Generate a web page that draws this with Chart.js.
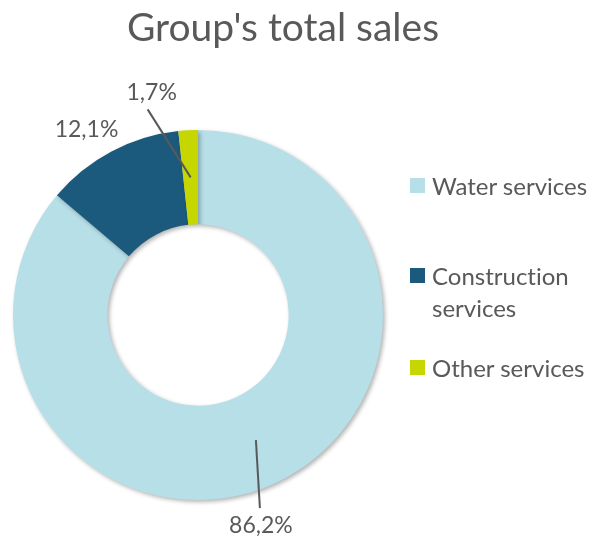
<!DOCTYPE html>
<html>
<head>
<meta charset="utf-8">
<script src="https://cdn.jsdelivr.net/npm/chart.js@4"></script>
<style>
body{margin:0;background:#fff;}
#wrap{position:relative;width:592px;height:540px;font-family:Lato,"Open Sans",sans-serif;color:#595959;font-variant-ligatures:none;}
#title{position:absolute;left:0;top:3px;width:566px;text-align:center;font-size:39px;}
.lg{position:absolute;left:410px;font-size:24px;line-height:32px;}
.lg span{position:absolute;left:0;width:15px;height:15px;}
.lg div{margin-left:22px;white-space:nowrap;}
</style>
</head>
<body>
<div id="wrap">
<div id="title">Group's total sales</div>
<canvas id="chart" width="592" height="540"></canvas>
<div id="legend"></div>
</div>
<script>
const categories = ["Water services", "Construction services", "Other services"];
const shares = [86.2, 12.1, 1.7];
const labelTexts = ["86,2%", "12,1%", "1,7%"];
const colors = ["#B7DFE8", "#1B5A7D", "#C5D600"];

/* legend, built from the categories */
const legendRows = [
  {top:170, lines:["Water services"]},
  {top:260, lines:["Construction", "services"]},
  {top:352, lines:["Other services"]}
];
const legend = document.getElementById("legend");
categories.forEach((c,i)=>{
  const row = legendRows[i];
  legend.innerHTML += `<div class="lg" style="top:${row.top}px">
<span style="top:8px;background:${colors[i]}"></span>
<div>${row.lines.join("<br>")}</div></div>`;
});

/* label placement, relative to the slice middle point */
const labelPos = [
  {tx:5, ty:86, lx:4, ly:68, line:true},
  {tx:-47, ty:-64, line:false},
  {tx:-39, ty:-85, lx:-43, ly:-68, line:true}
];

const shadowPlugin = {
  id:"shadow",
  beforeDatasetsDraw(chart){
    const c = chart.ctx;
    c.save();
    c.shadowColor = "rgba(0,0,0,0.3)";
    c.shadowBlur = 4;
    c.shadowOffsetX = 2;
    c.shadowOffsetY = 2;
  },
  afterDatasetsDraw(chart){
    chart.ctx.restore();
  }
};

const labelPlugin = {
  id:"labels",
  afterDatasetsDraw(chart){
    const c = chart.ctx;
    const meta = chart.getDatasetMeta(0);
    c.save();
    c.font = "23px Lato, 'Open Sans', sans-serif";
    c.fillStyle = "#595959";
    c.strokeStyle = "#595959";
    c.lineWidth = 2;
    c.textAlign = "center";
    c.textBaseline = "middle";
    meta.data.forEach((arc,i)=>{
      const p = arc.getProps(["x","y","startAngle","endAngle","innerRadius","outerRadius"], true);
      const a = (p.startAngle + p.endAngle) / 2;
      const r = (p.innerRadius + p.outerRadius) / 2;
      const mx = p.x + Math.cos(a) * r;
      const my = p.y + Math.sin(a) * r;
      const o = labelPos[i];
      if(o.line){
        c.beginPath();
        c.moveTo(mx, my);
        c.lineTo(mx + o.lx, my + o.ly);
        c.stroke();
      }
      c.fillText(labelTexts[i], mx + o.tx, my + o.ty);
    });
    c.restore();
  }
};

new Chart(document.getElementById("chart"), {
  type:"doughnut",
  data:{
    labels:categories,
    datasets:[{
      data:shares,
      backgroundColor:colors,
      borderWidth:0,
      hoverOffset:0
    }]
  },
  options:{
    responsive:false,
    animation:false,
    cutout:"49%",
    layout:{padding:{left:13, right:209, top:130, bottom:40}},
    plugins:{legend:{display:false}, tooltip:{enabled:false}}
  },
  plugins:[shadowPlugin, labelPlugin]
});
</script>
</body>
</html>
